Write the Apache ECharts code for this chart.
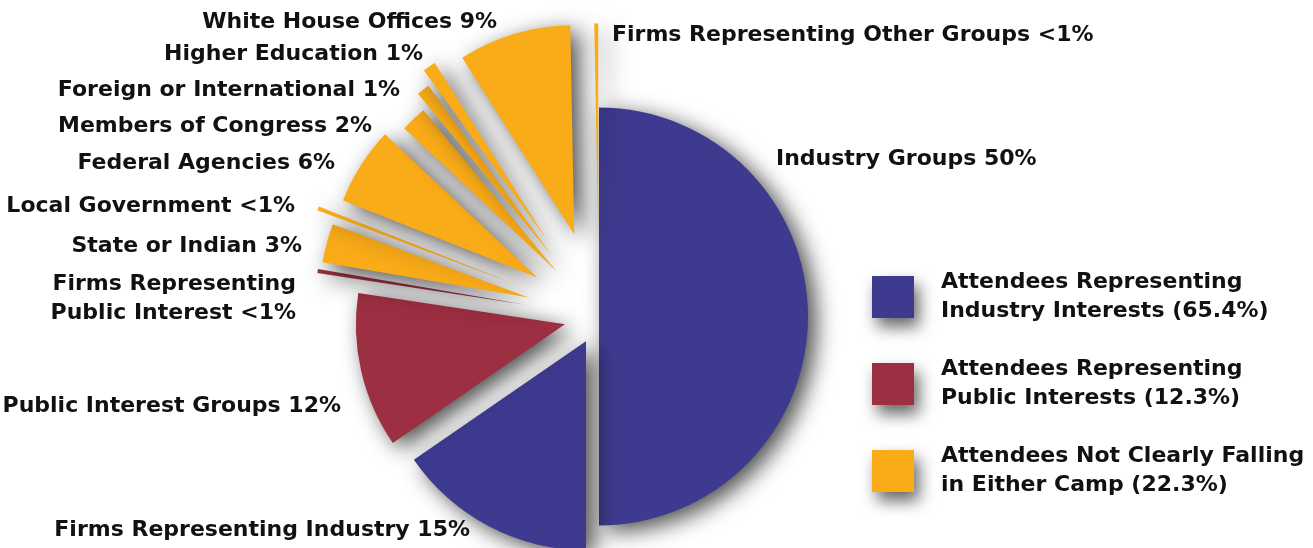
<!DOCTYPE html>
<html><head><meta charset="utf-8">
<script src="https://cdn.jsdelivr.net/npm/echarts@6/dist/echarts.min.js"></script>
<style>html,body{margin:0;padding:0;background:#fff}#c{width:1313px;height:548px}</style>
</head><body><div id="c"></div>
<script>
// ---- data ----
const categories = ['Industry Groups', 'Firms Representing Industry', 'Public Interest Groups',
  'Firms Representing\nPublic Interest', 'State or Indian', 'Local Government', 'Federal Agencies',
  'Members of Congress', 'Foreign or International', 'Higher Education', 'White House Offices',
  'Firms Representing Other Groups'];
const values = [50, 15.4, 12, 0.3, 3, 0.3, 6, 2, 1, 1, 8.7, 0.3];
const valueLabels = ['50%', '15%', '12%', '<1%', '3%', '<1%', '6%', '2%', '1%', '1%', '9%', '<1%'];
const groupOf = [0, 0, 1, 1, 2, 2, 2, 2, 2, 2, 2, 2];
const groupNames = ['Attendees Representing\nIndustry Interests (65.4%)',
  'Attendees Representing\nPublic Interests (12.3%)',
  'Attendees Not Clearly Falling\nin Either Camp (22.3%)'];

// ---- styles / layout ----
const groupColors = ['#3E3A8F', '#9C2F41', '#F9AB18'];
const explode = [0, 28, 35, 76, 73, 92, 73, 62, 78, 93, 86, 84];
// label anchors: [x, y, align]
const labelAnchor = [
  [776, 159, 'left'], [470, 530, 'right'], [341, 406, 'right'], [296, 299, 'right'],
  [302, 246, 'right'], [295, 206, 'right'], [335, 163, 'right'], [372, 126, 'right'],
  [400, 90, 'right'], [423, 54, 'right'], [497, 22, 'right'], [612, 35, 'left']
];
const FONT = 'DejaVu Sans';
const CENTER = [599, 316.5];
const RADIUS = 209;
const shadow = { shadowBlur: 22, shadowColor: 'rgba(0,0,0,0.7)', shadowOffsetX: 8, shadowOffsetY: 6 };

const chart = echarts.init(document.getElementById('c'), null, { renderer: 'canvas' });

// one pie series per exploded slice (all values kept so angles come from the data)
const pieSeries = values.map((_, k) => ({
  type: 'pie',
  name: 'slice' + k,
  center: CENTER,
  radius: RADIUS,
  startAngle: 90,
  clockwise: true,
  selectedMode: 'multiple',
  selectedOffset: explode[k],
  avoidLabelOverlap: false,
  silent: true,
  animation: false,
  emphasis: { disabled: true },
  itemStyle: Object.assign({ borderWidth: 0 }, shadow),
  label: { show: false },
  labelLine: { show: false },
  data: values.map((v, i) => ({
    name: categories[i],
    value: v,
    selected: i === k,
    itemStyle: i === k ? { color: groupColors[groupOf[i]] } : { opacity: 0 }
  }))
}));

// label-only pie series (invisible slices) carrying the category labels
const labelSeries = {
  type: 'pie',
  name: 'labels',
  center: CENTER,
  radius: RADIUS,
  startAngle: 90,
  clockwise: true,
  avoidLabelOverlap: false,
  silent: true,
  animation: false,
  emphasis: { disabled: true },
  itemStyle: { color: 'rgba(0,0,0,0)', borderWidth: 0 },
  labelLine: { show: false },
  label: {
    show: true,
    opacity: 1,
    position: 'outside',
    fontFamily: FONT, fontWeight: 'bold', fontSize: 22, lineHeight: 29, color: '#111',
    formatter: function (p) { return categories[p.dataIndex] + ' ' + valueLabels[p.dataIndex]; }
  },
  labelLayout: function (p) {
    const a = labelAnchor[p.dataIndex];
    return { x: a[0], y: a[1], align: a[2], verticalAlign: 'middle' };
  },
  data: values.map((v, i) => ({ name: categories[i], value: v }))
};

const legendSeries = groupNames.map((n, i) => ({
  type: 'custom', name: n, coordinateSystem: 'none', data: [],
  renderItem: function () { return null; },
  itemStyle: { color: groupColors[i] }
}));

chart.setOption({
  backgroundColor: '#fff',
  animation: false,
  legend: {
    data: groupNames,
    orient: 'vertical',
    left: 867,
    top: 263,
    icon: 'rect',
    itemWidth: 42,
    itemHeight: 42,
    itemGap: 29,
    selectedMode: false,
    itemStyle: { shadowBlur: 16, shadowColor: 'rgba(0,0,0,0.6)', shadowOffsetX: 5, shadowOffsetY: 9 },
    textStyle: {
      fontFamily: FONT, fontWeight: 'bold', fontSize: 22, lineHeight: 29, color: '#111',
      padding: [0, 0, 0, 22]
    }
  },
  series: pieSeries.concat([labelSeries]).concat(legendSeries)
});
</script>
</body></html>
